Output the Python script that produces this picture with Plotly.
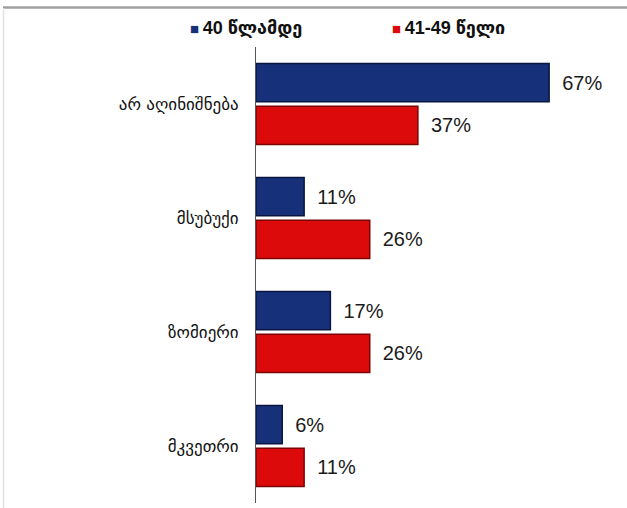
import plotly.graph_objects as go

categories = ["არ აღინიშნება", "მსუბუქი", "ზომიერი", "მკვეთრი"]
series_names = ["40 წლამდე", "41-49 წელი"]
values_40 = [67, 11, 17, 6]
values_41_49 = [37, 26, 26, 11]
colors = ["#17307a", "#dc0a0a"]
edge_colors = ["#0a1640", "#7a0606"]
legend_x_px = [188, 390]

W, H = 627, 508
L, R, T, B = 256, 21, 47, 5

fig = go.Figure()
for name, vals, c, ec in zip(series_names, [values_40, values_41_49], colors, edge_colors):
    fig.add_trace(go.Bar(
        y=categories, x=vals, name=name, orientation="h",
        marker=dict(color=c, line=dict(color=ec, width=1.5)),
        text=[f"\u2002{v}%" for v in vals], textposition="outside",
        textfont=dict(family="Liberation Sans, Arial, sans-serif", size=20, color="#1a1a1a"),
        cliponaxis=False, showlegend=False,
    ))

annotations = []
for name, c, px in zip(series_names, colors, legend_x_px):
    annotations.append(dict(
        xref="paper", yref="paper",
        x=(px - L) / (W - L - R), y=(H - B - 28) / (H - T - B),
        xanchor="left", yanchor="middle", showarrow=False,
        text=f"<span style='color:{c};font-size:15px'>■</span>\u2009<b>{name}</b>",
        font=dict(family="Liberation Sans, DejaVu Sans, sans-serif", size=18, color="#111"),
    ))

fig.update_layout(
    width=W, height=H,
    margin=dict(l=L, r=R, t=T, b=B, pad=0, autoexpand=False),
    paper_bgcolor="white", plot_bgcolor="white",
    barmode="group", bargap=0.253, bargroupgap=0.1,
    xaxis=dict(range=[0, 80], visible=False, fixedrange=True),
    yaxis=dict(
        autorange="reversed", showline=True, linecolor="#555", linewidth=1,
        ticks="", showgrid=False, ticklabelstandoff=13,
        tickfont=dict(family="DejaVu Sans, sans-serif", size=17, color="#111"),
    ),
    font=dict(family="DejaVu Sans, sans-serif"),
    annotations=annotations,
    shapes=[
        dict(type="line", xref="paper", yref="paper",
             x0=(3 - L) / (W - L - R), x1=(W - L) / (W - L - R),
             y0=(H - B - 7.5) / (H - T - B), y1=(H - B - 7.5) / (H - T - B),
             line=dict(color="#a0a0a0", width=2.5)),
        dict(type="line", xref="paper", yref="paper",
             x0=(3.5 - L) / (W - L - R), x1=(3.5 - L) / (W - L - R),
             y0=(H - B - 8) / (H - T - B), y1=(0 - B) / (H - T - B),
             line=dict(color="#e2e2e2", width=1.5)),
    ],
)

fig.write_html("out.html")
